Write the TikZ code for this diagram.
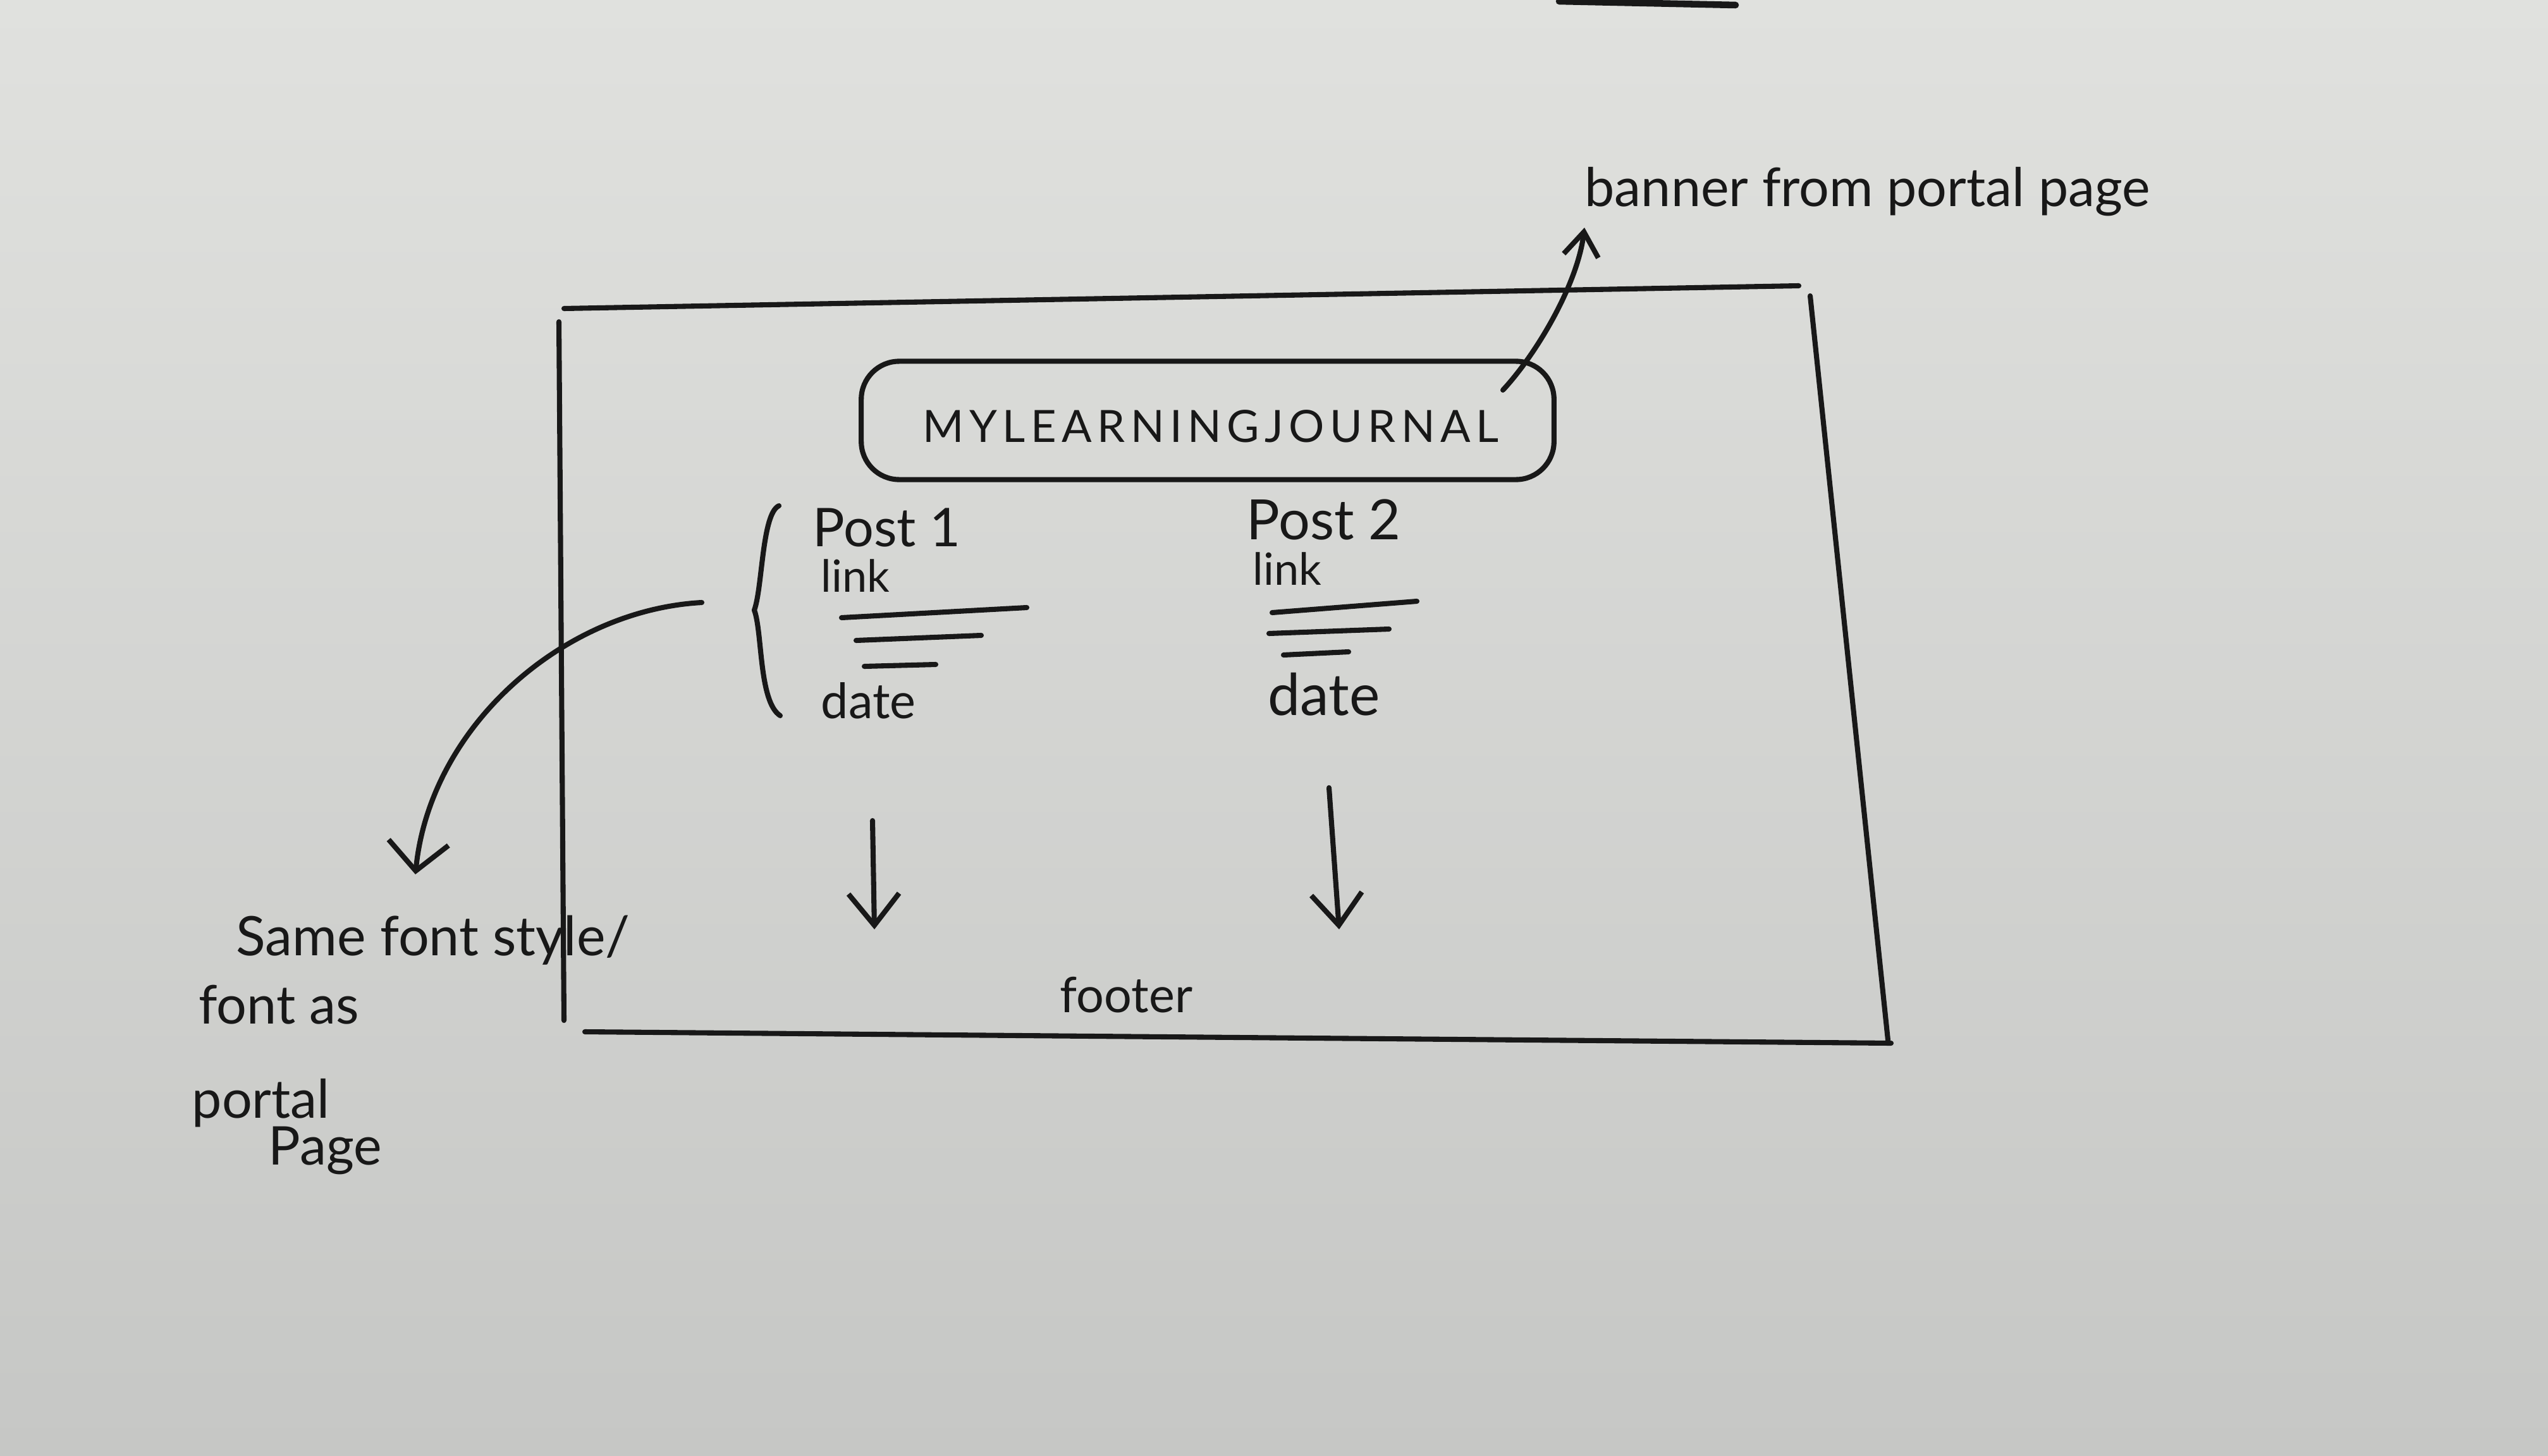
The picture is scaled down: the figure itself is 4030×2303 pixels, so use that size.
\documentclass[tikz,border=0pt]{standalone}
\usepackage{fontspec}
\setmainfont{Lato}
\usetikzlibrary{arrows.meta}
\definecolor{paper}{RGB}{224,225,222}
\definecolor{paperdark}{RGB}{198,199,197}
\definecolor{inkc}{RGB}{24,24,24}
\begin{document}
\begin{tikzpicture}[x=0.01cm,y=-0.01cm,
  ink/.style={draw=inkc, line width=2.3pt, line cap=round, line join=round},
  hand/.style={text=inkc, inner sep=0pt, anchor=base west},
  vtip/.style={-{Straight Barb[length=0.5cm,width=0.8cm]}},
  stip/.style={-{Straight Barb[length=0.38cm,width=0.55cm]}},
  ctip/.style={-{Straight Barb[length=0.45cm,width=0.95cm]}}
]
\useasboundingbox (0,0) rectangle (4030,2303);
\shade[top color=paper, bottom color=paperdark] (0,0) rectangle (4030,2303);

% stroke cut by the top edge
\draw[ink, line width=3pt] (2466,2) -- (2745,8);

% hand-drawn page frame
\coordinate (ftl) at (892,488);
\coordinate (ftr) at (2845,452);
\coordinate (fltop) at (884,509);
\coordinate (flbot) at (892,1614);
\coordinate (frtop) at (2863,468);
\coordinate (frbot) at (2986,1645);
\coordinate (fbl) at (925,1632);
\coordinate (fbr) at (2991,1650);
\draw[ink] (ftl) -- (ftr);
\draw[ink] (fltop) -- (flbot);
\draw[ink] (frtop) -- (frbot);
\draw[ink] (fbl) -- (fbr);

% banner
\node[ink, rounded corners=0.6cm, minimum width=10.95cm, minimum height=1.87cm] (banner) at (1910,665) {};
\node[hand, anchor=base, font=\fontsize{20}{24}\selectfont\addfontfeatures{LetterSpace=12}] (title) at (1915,699) {MYLEARNINGJOURNAL};

% banner label and arrow
\node[hand, font=\fontsize{24}{28}\selectfont] (bannerlbl) at (2506,326) {banner from portal page};
\coordinate (bstart) at (2377,617);
\coordinate (btip) at (2506,360);
\draw[ink, stip] (bstart) .. controls (2430,560) and (2495,450) .. (btip);

% post 1
\node[hand, text depth=0pt, font=\fontsize{24}{28}\selectfont] (post1) at (1285,864) {Post 1};
\node[hand, font=\fontsize{20}{24}\selectfont] (link1) at (1298,936) {link};
\draw[ink] (1331,977) -- (1624,961);
\draw[ink] (1354,1013) -- (1552,1005);
\draw[ink] (1367,1054) -- (1480,1051);
\node[hand, font=\fontsize{22}{26}\selectfont] (date1) at (1298,1136) {date};

% post 2
\node[hand, text depth=0pt, font=\fontsize{25}{29}\selectfont] (post2) at (1971,853) {Post 2};
\node[hand, font=\fontsize{20}{24}\selectfont] (link2) at (1981,925) {link};
\draw[ink] (2012,969) -- (2241,951);
\draw[ink] (2007,1002) -- (2197,995);
\draw[ink] (2030,1036) -- (2133,1031);
\node[hand, font=\fontsize{26}{30}\selectfont] (date2) at (2005,1131) {date};

% brace around post 1
\draw[ink] (1232,800) .. controls (1205,812) and (1206,930) .. (1193,965)
  .. controls (1206,1000) and (1200,1110) .. (1234,1132);

% down arrows
\coordinate (d1s) at (1380,1298);
\coordinate (d1e) at (1383,1470);
\coordinate (d2s) at (2102,1246);
\coordinate (d2e) at (2118,1470);
\draw[ink, vtip] (d1s) -- (d1e);
\draw[ink, vtip] (d2s) -- (d2e);

% footer
\node[hand, font=\fontsize{22}{26}\selectfont] (footer) at (1676,1601) {footer};

% note on the left
\node[hand, font=\fontsize{24.5}{28}\selectfont] (note1) at (373,1511) {Same font style/};
\node[hand, font=\fontsize{24}{28}\selectfont] (note2) at (314,1619) {font as};
\node[hand, font=\fontsize{24}{28}\selectfont] (note3) at (303,1768) {portal};
\node[hand, font=\fontsize{24}{28}\selectfont] (note4) at (424,1842) {Page};
\coordinate (cstart) at (1110,953);
\coordinate (ctipc) at (657,1383);
\draw[ink, ctip] (cstart) .. controls (890,965) and (680,1150) .. (ctipc);
\end{tikzpicture}
\end{document}
